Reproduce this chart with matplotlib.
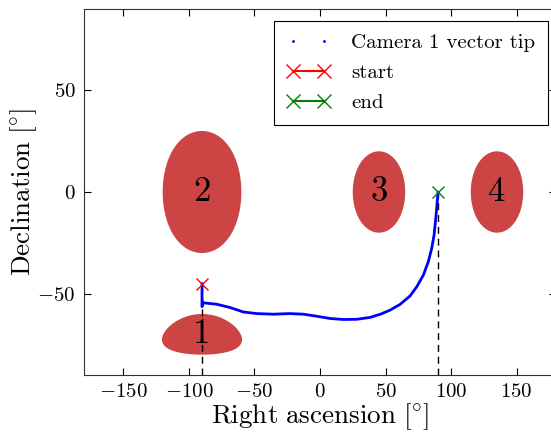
import numpy as np
import matplotlib
matplotlib.use("Agg")
import matplotlib.pyplot as plt
from matplotlib.lines import Line2D

plt.rcParams['font.family'] = 'serif'
plt.rcParams['font.serif'] = ['cmr10']
plt.rcParams['mathtext.fontset'] = 'cm'
plt.rcParams['axes.formatter.use_mathtext'] = True

# Camera pointing regions (center RA, center Dec, angular radius), labels
region_labels = ['1', '2', '3', '4']
region_ra = [-90, -90, 45, 135]
region_dec = [-70, 0, 0, 0]
region_radius = [10, 30, 20, 20]

# Camera 1 vector tip path (RA, Dec) in degrees
path_ra = [-90, -90, -90, -89.0, -78.8, -68.7, -58.5, -48.3, -35.6, -22.9, -12.7,
           -2.5, 7.6, 17.8, 28.0, 38.1, 46.5, 53.4, 61.0, 68.7, 73.8, 78.8, 82.6,
           85.2, 87.0, 88.3, 89.2, 90.0]
path_dec = [-45, -50, -56.4, -54.5, -55.2, -56.8, -59.0, -59.8, -60.1, -59.8, -60.1,
            -61.1, -62.2, -62.7, -62.6, -61.7, -60.0, -58.1, -55.3, -51.1, -46.6, -40.9, -34.3,
            -27.7, -21.2, -13.0, -6.4, 0.0]

start_pt = (-90, -45)
end_pt = (90, 0)

fig = plt.figure(figsize=(5.51, 4.34), dpi=100)
ax = fig.add_axes([84/551, 59/434, 472/551, 366/434])

# dashed guides
ax.plot([start_pt[0], start_pt[0]], [-90, start_pt[1]], color='k', ls=(0, (5, 3.5)), lw=1, zorder=3)
ax.plot([end_pt[0], end_pt[0]], [-90, end_pt[1]], color='k', ls=(0, (5, 3.5)), lw=1, zorder=3)

# spherical circles
t = np.linspace(0, 2*np.pi, 361)
for lab, ra0, dec0, r in zip(region_labels, region_ra, region_dec, region_radius):
    d0, rr = np.radians(dec0), np.radians(r)
    sd = np.sin(d0)*np.cos(rr) + np.cos(d0)*np.sin(rr)*np.cos(t)
    dec = np.arcsin(sd)
    dra = np.arctan2(np.sin(t)*np.sin(rr)*np.cos(d0), np.cos(rr) - np.sin(d0)*sd)
    ax.fill(ra0 + np.degrees(dra), np.degrees(dec), color='#cc4444', lw=0, zorder=2)
    ax.text(ra0, dec0, lab, fontsize=25, ha='center', va='center', zorder=5)

ax.plot(path_ra, path_dec, color='b', lw=2.0, solid_capstyle='round',
        solid_joinstyle='round', zorder=4)
ax.plot([start_pt[0]], [start_pt[1]], 'rx', ms=8, mew=1, zorder=6)
ax.plot([end_pt[0]], [end_pt[1]], 'x', color='g', ms=8, mew=1, zorder=6)

handles = [Line2D([], [], color='b', marker='.', ls='none', ms=2),
           Line2D([], [], color='r', marker='x', ls='-', ms=10, mew=1),
           Line2D([], [], color='g', marker='x', ls='-', ms=10, mew=1)]
leg = ax.legend(handles, ['Camera 1 vector tip', 'start', 'end'], loc='upper left',
                bbox_to_anchor=(190/472, 1 - 12/366), numpoints=2, fontsize=15,
                fancybox=False, framealpha=1, edgecolor='k', handlelength=2.1,
                handletextpad=1.0, borderpad=0.6, borderaxespad=0, labelspacing=0.55)
leg.get_frame().set_linewidth(0.8)

ax.set_xlim(-180, 180)
ax.set_ylim(-90, 90)
ax.set_xticks([-150, -100, -50, 0, 50, 100, 150])
ax.set_yticks([-50, 0, 50])
ax.tick_params(direction='in', top=True, right=True, length=5, labelsize=15, pad=6)
for s in ax.spines.values():
    s.set_color('#333333')
ax.set_xlabel(r'$\mathrm{Right\ ascension}\ [\!{}^\circ\!]$', fontsize=19.5, labelpad=0)
ax.set_ylabel(r'$\mathrm{Declination}\ [\!{}^\circ\!]$', fontsize=19.5, labelpad=-1)

fig.savefig('out.png', dpi=100)
